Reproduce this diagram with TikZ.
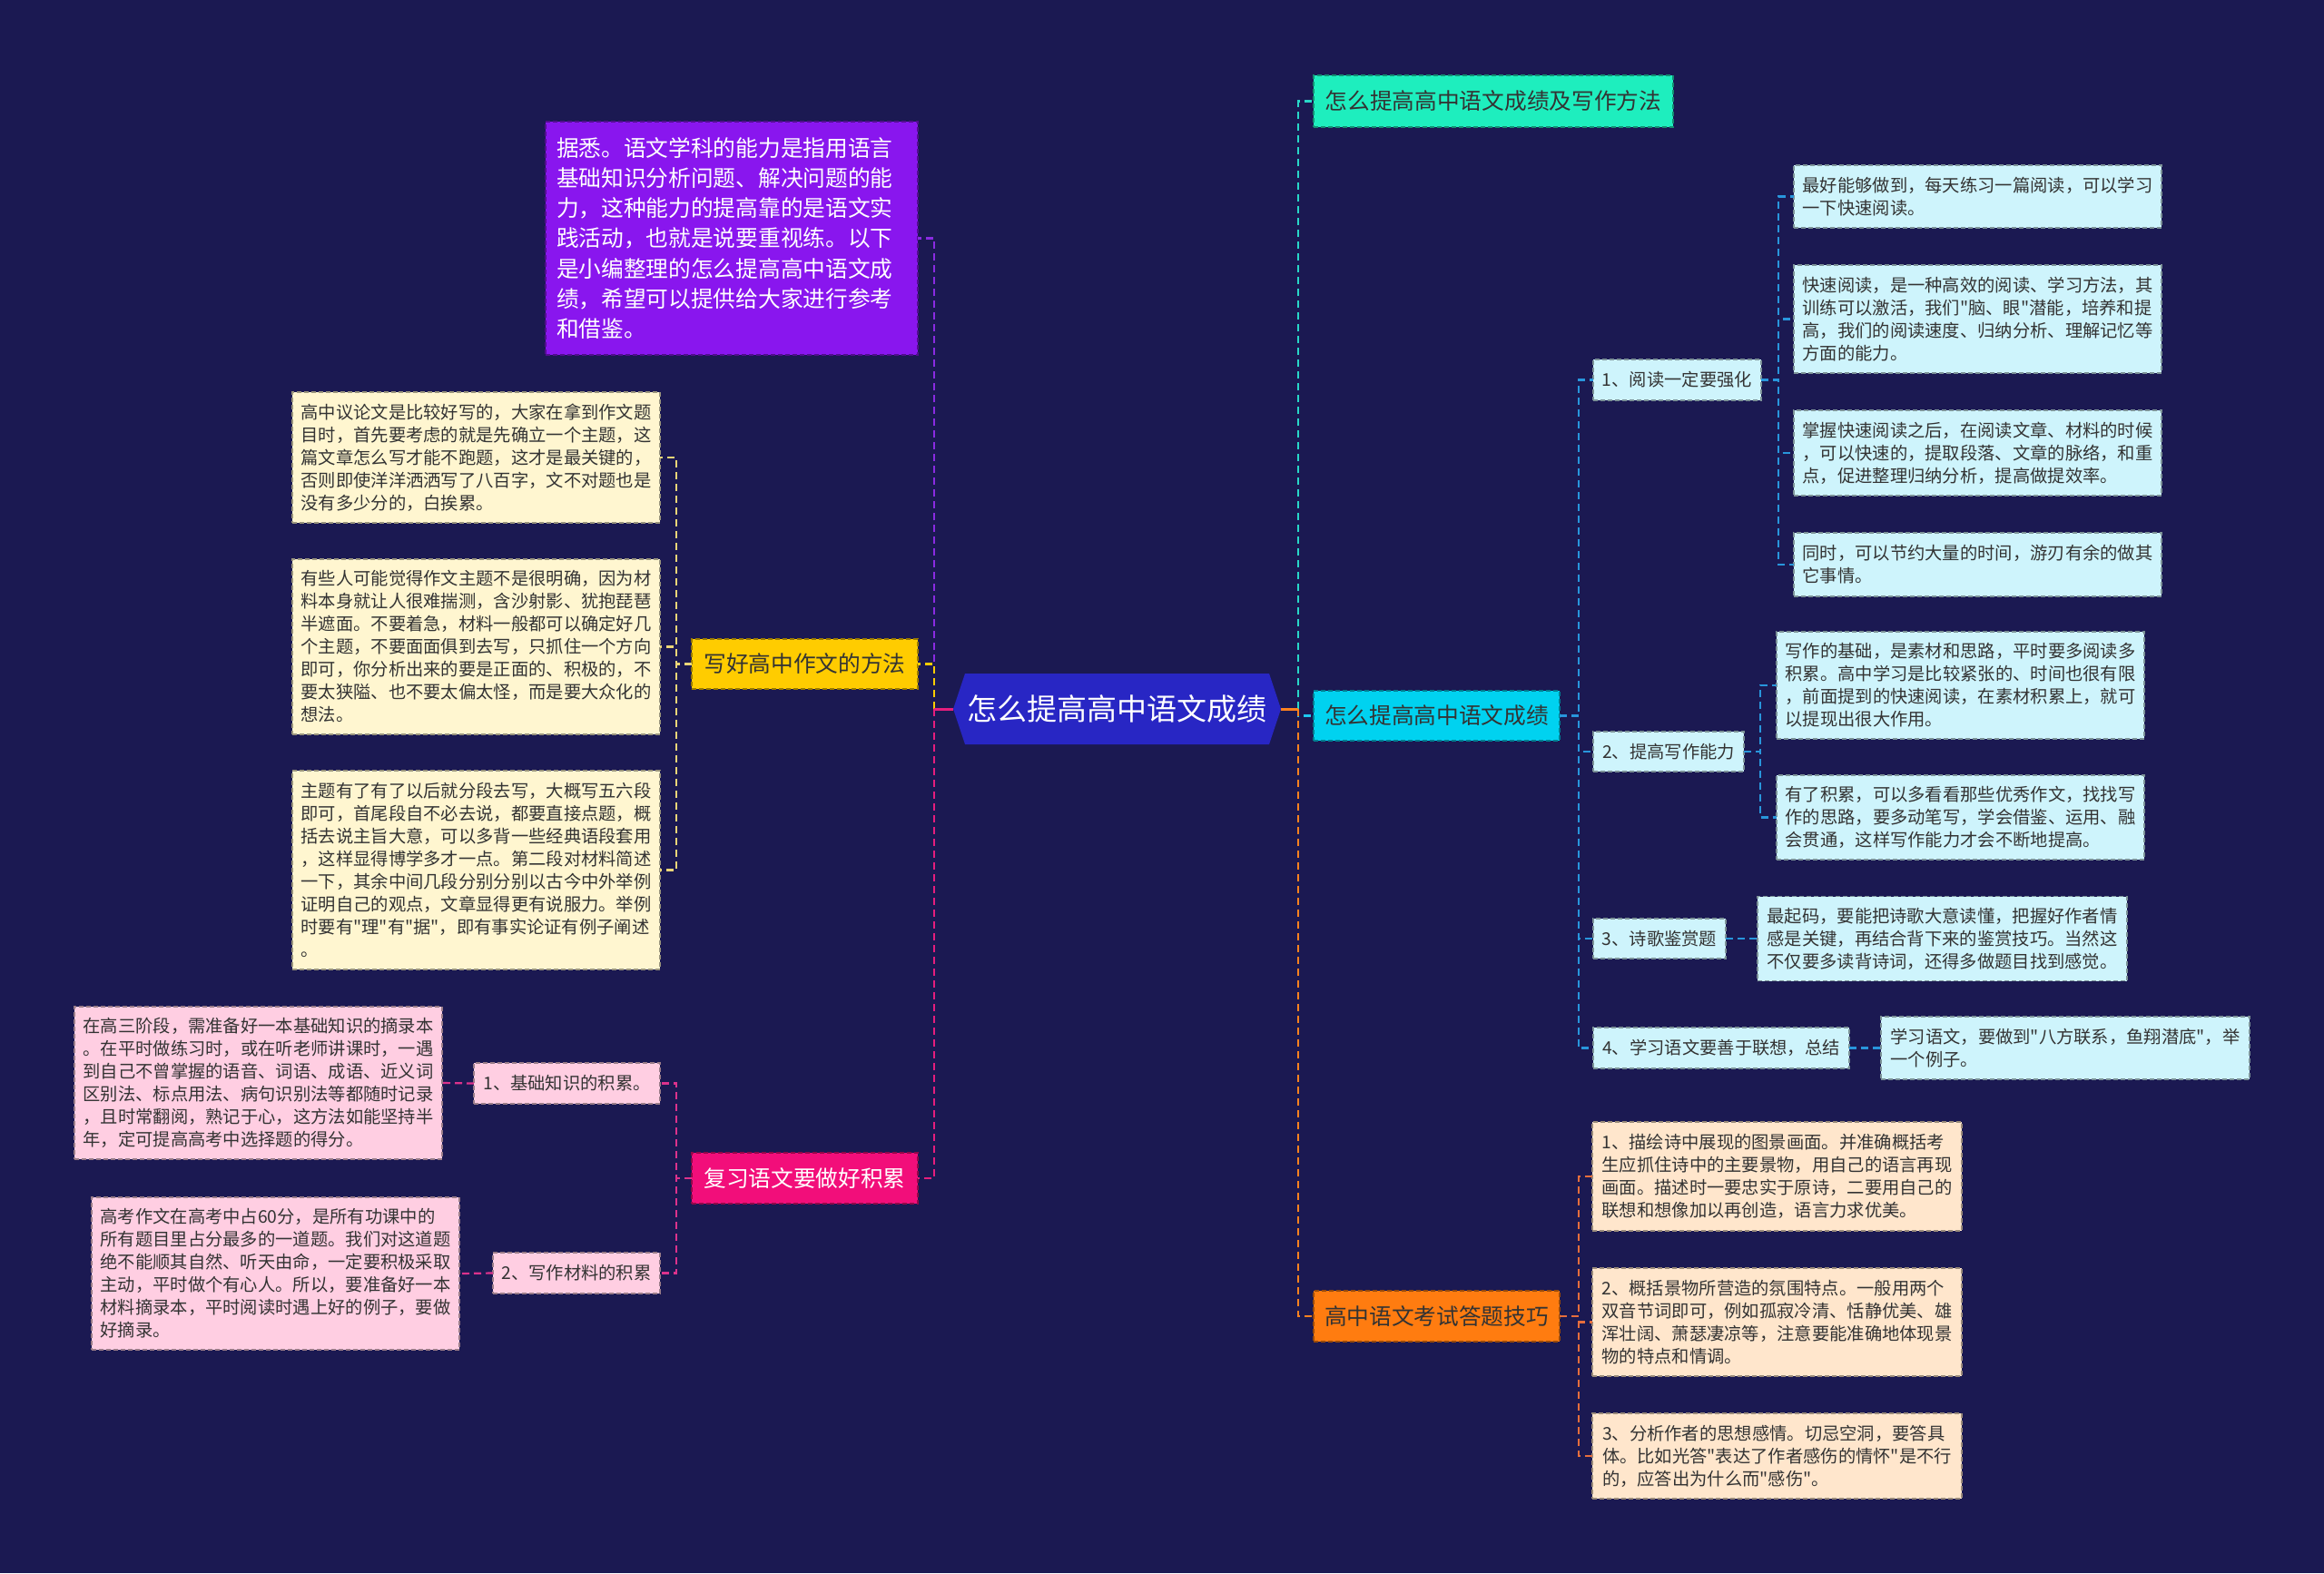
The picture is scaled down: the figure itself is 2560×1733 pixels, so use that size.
\documentclass[tikz,border=0pt]{standalone}
\usepackage{fontspec}
\newfontfamily\cjkf{Noto Sans CJK SC}
\usetikzlibrary{calc}
\definecolor{bgc}{RGB}{27,25,82}
\definecolor{hexc}{RGB}{40,38,196}
\definecolor{purp}{RGB}{137,22,238}
\definecolor{yel}{RGB}{255,204,0}
\definecolor{mag}{RGB}{242,14,122}
\definecolor{cream}{RGB}{255,246,208}
\definecolor{pink}{RGB}{255,206,226}
\definecolor{teal1}{RGB}{30,238,190}
\definecolor{cyanb}{RGB}{0,210,240}
\definecolor{lcyan}{RGB}{206,244,252}
\definecolor{orng}{RGB}{255,124,16}
\definecolor{peach}{RGB}{255,230,204}
\definecolor{lpurp}{RGB}{138,43,226}
\definecolor{lyel}{RGB}{255,204,0}
\definecolor{lyel2}{RGB}{236,214,120}
\definecolor{lmag}{RGB}{230,30,125}
\definecolor{lmag2}{RGB}{220,50,140}
\definecolor{lteal}{RGB}{40,215,200}
\definecolor{lcyan2}{RGB}{30,200,240}
\definecolor{lblue}{RGB}{40,150,220}
\definecolor{lorng}{RGB}{255,130,30}
\definecolor{lorng2}{RGB}{230,110,60}
\definecolor{txtd}{RGB}{51,51,51}
\begin{document}
\begin{tikzpicture}[x=1pt,y=-1pt,
  every node/.style={inner sep=0pt,outer sep=0pt},
  bx/.style={fill=#1,draw=#1!60!black,line width=1.5pt,dash pattern=on 5pt off 3pt},
  leaffont/.style={font=\cjkf\fontsize{19.3}{25}\selectfont,text=txtd},
  leaf/.style={leaffont,align=left},
  lvone/.style={font=\cjkf\fontsize{24.7}{33.3}\selectfont},
  ln/.style={draw=#1,line width=2.2pt,dash pattern=on 8pt off 5pt},
  stub/.style={draw=#1,line width=3pt}
]
\fill[bgc] (0,0) rectangle (2560,1733);
\useasboundingbox (0,0) rectangle (2560,1733);

% root hexagon
\coordinate (rc) at (1230.5,781);
\fill[hexc] ($(rc)+(-180.5,0)$) -- ($(rc)+(-167.5,-39)$) -- ($(rc)+(167.5,-39)$) -- ($(rc)+(180.5,0)$) -- ($(rc)+(167.5,39)$) -- ($(rc)+(-167.5,39)$) -- cycle;
\node[minimum width=361pt,minimum height=78pt,text=white,font=\cjkf\fontsize{33}{40}\selectfont] (root) at (rc) {怎么提高高中语文成绩};

% left level 1
\node[bx=purp,lvone,text=white,align=left,text width=386pt,inner xsep=12pt,minimum height=257pt] (purple) at (806,262.5) {据悉。语文学科的能力是指用语言\\基础知识分析问题、解决问题的能\\力，这种能力的提高靠的是语文实\\践活动，也就是说要重视练。以下\\是小编整理的怎么提高高中语文成\\绩，希望可以提供给大家进行参考\\和借鉴。};
\node[bx=yel,lvone,text=txtd,minimum width=249pt,minimum height=55pt] (yellow) at (886.5,731.5) {写好高中作文的方法};
\node[bx=mag,lvone,text=white,minimum width=249pt,minimum height=56pt] (magenta) at (886.5,1298) {复习语文要做好积累};

% yellow children
\node[bx=cream,leaf,minimum width=405pt,minimum height=144pt] (c1) at (524.5,504) {高中议论文是比较好写的，大家在拿到作文题\\目时，首先要考虑的就是先确立一个主题，这\\篇文章怎么写才能不跑题，这才是最关键的，\\否则即使洋洋洒洒写了八百字，文不对题也是\\没有多少分的，白挨累。};
\node[bx=cream,leaf,minimum width=405pt,minimum height=193pt] (c2) at (524.5,712.5) {有些人可能觉得作文主题不是很明确，因为材\\料本身就让人很难揣测，含沙射影、犹抱琵琶\\半遮面。不要着急，材料一般都可以确定好几\\个主题，不要面面俱到去写，只抓住一个方向\\即可，你分析出来的要是正面的、积极的，不\\要太狭隘、也不要太偏太怪，而是要大众化的\\想法。};
\node[bx=cream,leaf,minimum width=405pt,minimum height=219pt] (c3) at (524.5,958.5) {主题有了有了以后就分段去写，大概写五六段\\即可，首尾段自不必去说，都要直接点题，概\\括去说主旨大意，可以多背一些经典语段套用\\，这样显得博学多才一点。第二段对材料简述\\一下，其余中间几段分别分别以古今中外举例\\证明自己的观点，文章显得更有说服力。举例\\时要有"理"有"据"，即有事实论证有例子阐述\\。};

% magenta children
\node[bx=pink,leaffont,minimum width=205pt,minimum height=45pt] (p1) at (624.5,1193.5) {1、基础知识的积累。};
\node[bx=pink,leaffont,minimum width=184pt,minimum height=45pt] (p2) at (635,1402.5) {2、写作材料的积累};
\node[bx=pink,leaf,minimum width=405pt,minimum height=168pt] (pk1) at (284.5,1193) {在高三阶段，需准备好一本基础知识的摘录本\\。在平时做练习时，或在听老师讲课时，一遇\\到自己不曾掌握的语音、词语、成语、近义词\\区别法、标点用法、病句识别法等都随时记录\\，且时常翻阅，熟记于心，这方法如能坚持半\\年，定可提高高考中选择题的得分。};
\node[bx=pink,leaf,minimum width=405pt,minimum height=168pt] (pk2) at (303.5,1403) {高考作文在高考中占60分，是所有功课中的\\所有题目里占分最多的一道题。我们对这道题\\绝不能顺其自然、听天由命，一定要积极采取\\主动，平时做个有心人。所以，要准备好一本\\材料摘录本，平时阅读时遇上好的例子，要做\\好摘录。};

% right level 1
\node[bx=teal1,lvone,text=txtd,minimum width=396pt,minimum height=57pt] (teal) at (1645,111.5) {怎么提高高中语文成绩及写作方法};
\node[bx=cyanb,lvone,text=txtd,minimum width=271pt,minimum height=55pt] (cyan) at (1582.5,788.5) {怎么提高高中语文成绩};
\node[bx=orng,lvone,text=txtd,minimum width=271pt,minimum height=56pt] (orange) at (1582.5,1450) {高中语文考试答题技巧};

% cyan children
\node[bx=lcyan,leaffont,minimum width=185pt,minimum height=45pt] (s1) at (1847.5,418.5) {1、阅读一定要强化};
\node[bx=lcyan,leaffont,minimum width=166pt,minimum height=44pt] (s2) at (1838,828) {2、提高写作能力};
\node[bx=lcyan,leaffont,minimum width=146pt,minimum height=44pt] (s3) at (1828,1034) {3、诗歌鉴赏题};
\node[bx=lcyan,leaffont,minimum width=282pt,minimum height=45pt] (s4) at (1896,1154.5) {4、学习语文要善于联想，总结};

\node[bx=lcyan,leaf,minimum width=405pt,minimum height=69pt] (l1a) at (2178.5,216.5) {最好能够做到，每天练习一篇阅读，可以学习\\一下快速阅读。};
\node[bx=lcyan,leaf,minimum width=405pt,minimum height=119pt] (l1b) at (2178.5,351.5) {快速阅读，是一种高效的阅读、学习方法，其\\训练可以激活，我们"脑、眼"潜能，培养和提\\高，我们的阅读速度、归纳分析、理解记忆等\\方面的能力。};
\node[bx=lcyan,leaf,minimum width=405pt,minimum height=94pt] (l1c) at (2178.5,499) {掌握快速阅读之后，在阅读文章、材料的时候\\，可以快速的，提取段落、文章的脉络，和重\\点，促进整理归纳分析，提高做提效率。};
\node[bx=lcyan,leaf,minimum width=405pt,minimum height=70pt] (l1d) at (2178.5,622) {同时，可以节约大量的时间，游刃有余的做其\\它事情。};
\node[bx=lcyan,leaf,minimum width=405pt,minimum height=118pt] (l2a) at (2159.5,755) {写作的基础，是素材和思路，平时要多阅读多\\积累。高中学习是比较紧张的、时间也很有限\\，前面提到的快速阅读，在素材积累上，就可\\以提现出很大作用。};
\node[bx=lcyan,leaf,minimum width=405pt,minimum height=93pt] (l2b) at (2159.5,900.5) {有了积累，可以多看看那些优秀作文，找找写\\作的思路，要多动笔写，学会借鉴、运用、融\\会贯通，这样写作能力才会不断地提高。};
\node[bx=lcyan,leaf,minimum width=407pt,minimum height=93pt] (l3) at (2139.5,1034) {最起码，要能把诗歌大意读懂，把握好作者情\\感是关键，再结合背下来的鉴赏技巧。当然这\\不仅要多读背诗词，还得多做题目找到感觉。};
\node[bx=lcyan,leaf,minimum width=406pt,minimum height=69pt] (l4) at (2275,1154.5) {学习语文，要做到"八方联系，鱼翔潜底"，举\\一个例子。};

% orange children
\node[bx=peach,leaf,minimum width=407pt,minimum height=120pt] (o1) at (1957.5,1296) {1、描绘诗中展现的图景画面。并准确概括考\\生应抓住诗中的主要景物，用自己的语言再现\\画面。描述时一要忠实于原诗，二要用自己的\\联想和想像加以再创造，语言力求优美。};
\node[bx=peach,leaf,minimum width=407pt,minimum height=119pt] (o2) at (1957.5,1456.5) {2、概括景物所营造的氛围特点。一般用两个\\双音节词即可，例如孤寂冷清、恬静优美、雄\\浑壮阔、萧瑟凄凉等，注意要能准确地体现景\\物的特点和情调。};
\node[bx=peach,leaf,minimum width=407pt,minimum height=94pt] (o3) at (1957.5,1604) {3、分析作者的思想感情。切忌空洞，要答具\\体。比如光答"表达了作者感伤的情怀"是不行\\的，应答出为什么而"感伤"。};

% connectors: left root
\coordinate (lj) at (1029,781);
\draw[ln=lpurp] (lj) |- (purple.east);
\draw[ln=lyel] (lj) |- (yellow.east);
\draw[ln=lmag] (lj) |- (magenta.east);
\draw[stub=lmag] (root.west) -- (lj);
% right root
\coordinate (rj) at (1430,781);
\draw[ln=lteal] (rj) |- (teal.west);
\draw[ln=lcyan2] (rj) |- (cyan.west);
\draw[ln=lorng] (rj) |- (orange.west);
\draw[stub=lorng] (root.east) -- (rj);

% yellow branch
\foreach \c in {c1,c2,c3} \draw[ln=lyel2] (yellow.west) -- ++(-17,0) |- (\c.east);
% magenta branch
\foreach \c in {p1,p2} \draw[ln=lmag2] (magenta.west) -- ++(-17,0) |- (\c.east);
\draw[ln=lmag2] (p1.west) -- (pk1.east);
\draw[ln=lmag2] (p2.west) -- (pk2.east);

% cyan branch
\foreach \c in {s1,s2,s3,s4} \draw[ln=lblue] (cyan.east) -- ++(21,0) |- (\c.west);
\foreach \c in {l1a,l1b,l1c,l1d} \draw[ln=lblue] (s1.east) -- ++(19,0) |- (\c.west);
\foreach \c in {l2a,l2b} \draw[ln=lblue] (s2.east) -- ++(18,0) |- (\c.west);
\draw[ln=lblue] (s3.east) -- (l3.west);
\draw[ln=lblue] (s4.east) -- (l4.west);

% orange branch
\foreach \c in {o1,o2,o3} \draw[ln=lorng2] (orange.east) -- ++(21,0) |- (\c.west);
\end{tikzpicture}
\end{document}
